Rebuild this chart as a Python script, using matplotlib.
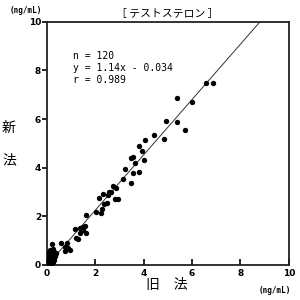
import matplotlib
matplotlib.use('Agg')
import matplotlib.pyplot as plt
import numpy as np

plt.rcParams['font.family'] = ['Noto Sans CJK JP', 'DejaVu Sans']

# old method (x) vs new method (y), ng/mL
old_method = [
    6.56, 6.86, 5.39, 6.01, 4.94, 5.36, 5.72, 4.43, 4.05, 4.86,
    3.80, 3.95, 3.46, 3.56, 4.00, 3.63, 3.22, 3.54, 3.81, 3.15,
    3.47, 2.72, 2.85, 2.33, 2.58, 2.67, 2.16, 2.54, 2.81, 2.95,
    2.47, 2.37, 2.28, 2.22, 2.03, 1.62, 1.51, 1.16, 1.37, 1.58,
    1.37, 1.62, 1.51, 1.21, 1.30, 0.82, 0.58, 0.75, 0.89, 0.96,
    0.75, 0.21, 0.14, 0.27, 0.31, 0.34,
    # low-concentration cluster
    0.02, 0.04, 0.05, 0.06, 0.08, 0.09, 0.10, 0.11, 0.12, 0.13,
    0.14, 0.15, 0.16, 0.17, 0.18, 0.19, 0.20, 0.21, 0.22, 0.23,
    0.24, 0.25, 0.26, 0.28, 0.30, 0.32, 0.03, 0.05, 0.07, 0.09,
    0.11, 0.13, 0.15, 0.17, 0.19, 0.21, 0.23, 0.25, 0.27, 0.29,
    0.04, 0.06, 0.08, 0.10, 0.12, 0.14, 0.16, 0.18, 0.20, 0.22,
    0.24, 0.26, 0.28, 0.06, 0.10, 0.15, 0.19, 0.24, 0.12, 0.17,
    0.22, 0.08, 0.35, 0.40,
]
new_method = [
    7.50, 7.50, 6.88, 6.70, 5.91, 5.90, 5.56, 5.35, 5.12, 5.17,
    4.90, 4.70, 4.39, 4.46, 4.32, 4.18, 3.94, 3.80, 3.84, 3.53,
    3.39, 3.26, 3.18, 2.91, 2.98, 3.02, 2.77, 2.88, 2.70, 2.70,
    2.56, 2.51, 2.29, 2.13, 2.18, 2.05, 1.55, 1.47, 1.51, 1.60,
    1.33, 1.30, 1.44, 1.10, 1.06, 0.92, 0.89, 0.75, 0.69, 0.62,
    0.58, 0.86, 0.62, 0.66, 0.55, 0.37,
    0.05, 0.10, 0.20, 0.02, 0.15, 0.30, 0.08, 0.25, 0.40, 0.12,
    0.35, 0.18, 0.05, 0.28, 0.45, 0.22, 0.10, 0.50, 0.30, 0.15,
    0.42, 0.25, 0.55, 0.35, 0.48, 0.40, 0.15, 0.35, 0.25, 0.45,
    0.20, 0.52, 0.28, 0.38, 0.12, 0.60, 0.33, 0.20, 0.45, 0.30,
    0.30, 0.40, 0.05, 0.55, 0.28, 0.08, 0.42, 0.32, 0.18, 0.58,
    0.12, 0.48, 0.22, 0.25, 0.35, 0.50, 0.08, 0.38, 0.20, 0.02,
    0.10, 0.45, 0.42, 0.50,
]

slope, intercept = 1.14, -0.034
n_label = 'n = 120'
eq_label = 'y = 1.14x - 0.034'
r_label = 'r = 0.989'

fig = plt.figure(figsize=(3, 3), dpi=100)
ax = fig.add_axes([0.156, 0.117, 0.807, 0.81])

ax.scatter(old_method, new_method, s=15, color='black', linewidths=0, zorder=3)

x_line = np.array([0.03, (10 - intercept) / slope])
ax.plot(x_line, slope * x_line + intercept, color='#333333', lw=0.7, zorder=2)

ax.set_xlim(0, 10)
ax.set_ylim(0, 10)
ticks = [0, 2, 4, 6, 8, 10]
ax.set_xticks(ticks)
ax.set_yticks(ticks)
ax.set_xticklabels([str(t) for t in ticks], fontsize=6.5, fontweight='bold', family='DejaVu Sans')
ax.set_yticklabels([str(t) for t in ticks], fontsize=6.5, fontweight='bold', family='DejaVu Sans')
ax.tick_params(axis='x', direction='in', length=4, width=1.2, pad=3)
ax.tick_params(axis='y', direction='out', length=3.5, width=1.2, pad=0.5)
for sp in ax.spines.values():
    sp.set_linewidth(1.3)
    sp.set_color('#222222')

ax.text(0.11, 0.88, n_label + '\n' + eq_label + '\n' + r_label, transform=ax.transAxes,
        fontsize=7, family='DejaVu Sans Mono', va='top', ha='left', linespacing=1.25)

fig.text(0.557, 0.955, '［ テストステロン ］', ha='center', va='center', fontsize=7.8)
fig.text(0.085, 0.965, '(ng/mL)', ha='center', va='center', fontsize=5.5,
         fontweight='bold', family='DejaVu Sans Mono')
fig.text(0.915, 0.032, '(ng/mL)', ha='center', va='center', fontsize=5.5,
         fontweight='bold', family='DejaVu Sans Mono')
fig.text(0.555, 0.05, '旧　法', ha='center', va='center', fontsize=10)
fig.text(0.03, 0.575, '新', ha='center', va='center', fontsize=10)
fig.text(0.03, 0.465, '法', ha='center', va='center', fontsize=10)

fig.savefig('out.png', dpi=100)
